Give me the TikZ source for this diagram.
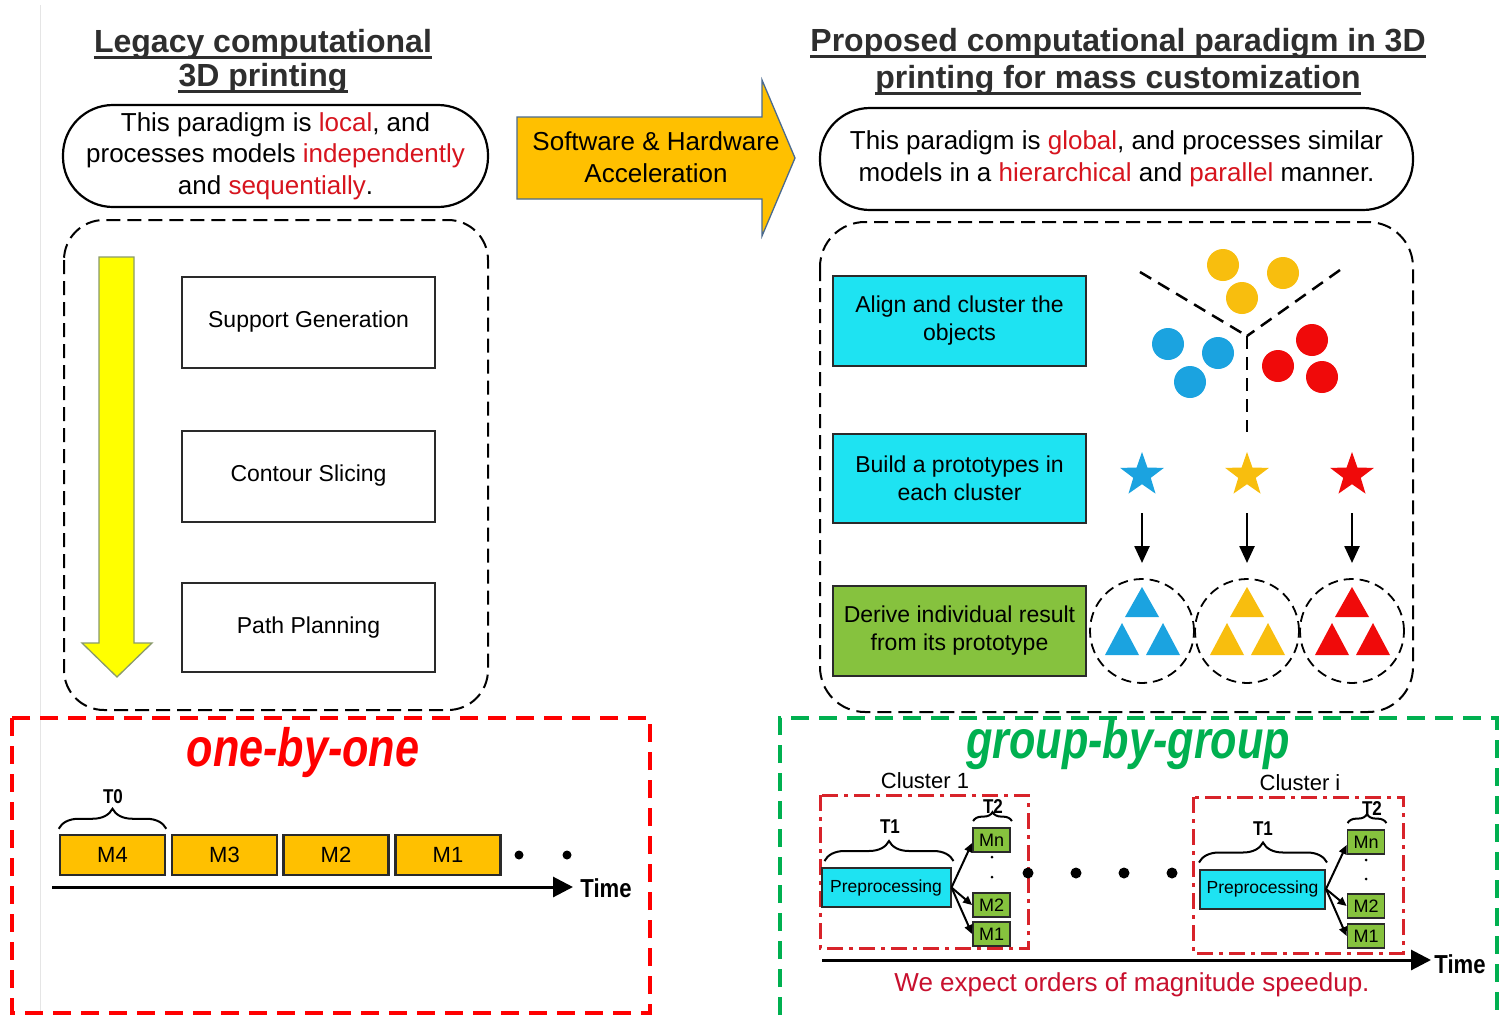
\documentclass[tikz,border=0pt]{standalone}
\usepackage{fontspec}
\setmainfont{Liberation Sans}
\usetikzlibrary{arrows.meta,shapes.geometric,decorations.pathreplacing,calc}

\definecolor{titlegray}{HTML}{2E2E2E}
\definecolor{hlred}{HTML}{D7141E}
\definecolor{accorange}{HTML}{FFC000}
\definecolor{procyan}{HTML}{1EE3F2}
\definecolor{derivegreen}{HTML}{86C23E}
\definecolor{dotblue}{HTML}{1BA3E0}
\definecolor{dotyellow}{HTML}{F8BE0E}
\definecolor{dotred}{HTML}{F00A0A}
\definecolor{speedred}{HTML}{C8102E}
\definecolor{groupgreen}{HTML}{00B050}
\definecolor{arrowyellow}{HTML}{FFFF00}
\definecolor{clusterred}{HTML}{D8232A}
\definecolor{boxedge}{HTML}{2A2A2A}
\definecolor{accedge}{HTML}{4A6A8F}
\definecolor{yedge}{HTML}{8A9A6A}

\newcommand{\fsz}[2]{\fontsize{#1}{#2}\selectfont}
\newcommand{\redword}[1]{\textcolor{hlred}{#1}}

\begin{document}
\begin{tikzpicture}[x=1pt,y=-1pt,
  ttl/.style={font=\fsz{32}{38}\bfseries, text=titlegray, inner sep=0pt, anchor=base},
  uline/.style={titlegray, line width=3pt},
  pill/.style={draw=black, line width=2.2pt, rounded corners=50pt, align=center,
    font=\fsz{26}{31.5}, inner sep=0pt},
  stage/.style={draw=boxedge, line width=2pt, minimum width=253pt, minimum height=91pt,
    align=center, font=\fsz{23}{28}, inner sep=0pt},
  cyanbox/.style={stage, fill=procyan},
  greenbox/.style={stage, fill=derivegreen},
  bigdash/.style={draw=black, line width=2pt, dash pattern=on 14pt off 7pt},
  mslot/.style={draw=boxedge, line width=2.5pt, fill=accorange, minimum width=105pt,
    minimum height=40pt, inner sep=0pt, font=\fsz{22}{24}},
  mtiny/.style={draw=boxedge, line width=1.8pt, fill=derivegreen, minimum width=37pt,
    minimum height=24pt, inner sep=0pt, font=\fsz{18}{20}},
  prebox/.style={draw=boxedge, line width=2pt, fill=procyan, minimum width=129pt,
    minimum height=39pt, inner sep=0pt, font=\fsz{17.5}{20}},
  clusterbox/.style={draw=clusterred, line width=3pt,
    dash pattern=on 16pt off 6pt on 4pt off 6pt},
  tbrace/.style={decorate, decoration={brace, amplitude=#1}, line width=2pt},
  tlabel/.style={font=\fsz{20}{22}\bfseries, inner sep=0pt},
  timelbl/.style={font=\fsz{26}{30}\bfseries, inner sep=0pt},
  axis/.style={line width=3pt, -{Triangle[length=20pt,width=20pt]}},
  blkarrow/.style={line width=2.5pt, -{Triangle[length=17pt,width=15pt]}},
  smallarr/.style={line width=2pt, -{Triangle[length=9pt,width=8pt]}},
  ring/.style={circle, draw=black, line width=1.8pt, dash pattern=on 10pt off 6pt,
    minimum size=104pt, inner sep=0pt},
  proto/.style={star, star points=5, star point ratio=2.5, minimum size=46pt,
    inner sep=0pt, fill=#1},
  bigdot/.style={circle, fill=black, minimum size=10pt, inner sep=0pt},
]
\useasboundingbox (0,0) rectangle (1499,1015);
\fill[white] (0,0) rectangle (1499,1015);
\draw[black!10, line width=1pt] (40,5) -- (40,1015);

% ---------- titles ----------
\node[ttl] (lt1) at (263,52) {Legacy computational};
\node[ttl] (lt2) at (263,86) {3D printing};
\node[ttl] (rt1) at (1118,51) {Proposed computational paradigm in 3D};
\node[ttl] (rt2) at (1118,88) {printing for mass customization};
\foreach \t in {lt1,lt2,rt1,rt2}
  \draw[uline] ($(\t.base west)+(0,5)$) -- ($(\t.base east)+(0,5)$);

% ---------- summary pills ----------
\node[pill, minimum width=425pt, minimum height=102pt] (lpill) at (275.5,156)
  {This paradigm is \redword{local}, and\\processes models \redword{independently}\\and \redword{sequentially}.};
\node[pill, minimum width=593pt, minimum height=102pt] (rpill) at (1116.5,159)
  {This paradigm is \redword{global}, and processes similar\\models in a \redword{hierarchical} and \redword{parallel} manner.};

% ---------- acceleration arrow ----------
\filldraw[fill=accorange, draw=accedge, line width=1.3pt]
  (517,117) -- (762,117) -- (762,80) -- (795,158) -- (762,236) -- (762,199) -- (517,199) -- cycle;
\node[font=\fsz{26}{32}, align=center, inner sep=0pt] (accel) at (656,157)
  {Software \& Hardware\\Acceleration};

% ---------- legacy pipeline ----------
\draw[bigdash, rounded corners=40pt] (64,220) rectangle (488,710);
\filldraw[fill=arrowyellow, draw=yedge, line width=1.3pt]
  (99,257) -- (134,257) -- (134,643) -- (152,643) -- (117,677) -- (82,643) -- (99,643) -- cycle;
\node[stage] (sg) at (308.5,322) {Support Generation};
\node[stage] (cs) at (308.5,476) {Contour Slicing};
\node[stage, minimum height=89pt] (pp) at (308.5,627.5) {Path Planning};

% ---------- proposed pipeline ----------
\draw[bigdash, rounded corners=45pt] (820,222) rectangle (1413,712);
\node[cyanbox, minimum height=90pt] (align) at (959.5,321) {Align and cluster the\\objects};
\node[cyanbox, minimum height=89pt] (build) at (959.5,478.5) {Build a prototypes in\\each cluster};
\node[greenbox, minimum height=90pt] (derive) at (959.5,631) {Derive individual result\\from its prototype};

% clustered objects and separating lines
\draw[line width=2.5pt, dash pattern=on 13pt off 8pt] (1140,272) -- (1247,336);
\draw[line width=2.5pt, dash pattern=on 13pt off 8pt] (1340,270) -- (1247,336);
\draw[line width=2.5pt, dash pattern=on 13pt off 8pt] (1247,336) -- (1247,432);
\foreach \p in {(1223,265),(1283,273),(1242,298)} \fill[dotyellow] \p circle (16);
\foreach \p in {(1168,344),(1218,353),(1190,382)} \fill[dotblue] \p circle (16);
\foreach \p in {(1312,340),(1278,366),(1322,377)} \fill[dotred] \p circle (16);

% prototypes, arrows and derived results
\foreach \i/\cx/\col in {1/1142/dotblue,2/1247/dotyellow,3/1352/dotred} {
  \node[proto=\col] (s\i) at (\cx,475) {};
  \node[ring] (c\i) at (\cx,631) {};
  \draw[blkarrow] ($(s\i.center)+(0,38)$) -- ($(c\i.center)+(0,-68)$);
  \fill[\col] (\cx,587) -- (\cx+17,617) -- (\cx-17,617) -- cycle;
  \fill[\col] (\cx-20,623) -- (\cx-3,655) -- (\cx-37,655) -- cycle;
  \fill[\col] (\cx+21,623) -- (\cx+38,655) -- (\cx+4,655) -- cycle;
}

% ---------- one-by-one timeline ----------
\draw[red, line width=4pt, dash pattern=on 18pt off 10pt] (12,718) rectangle (650,1013);
\node[font=\fsz{54}{60}\bfseries\itshape, text=red, inner sep=0pt] (obo) at (303,753)
  {\scalebox{0.8}[1]{one-by-one}};
\node[mslot] (m4) at (112.5,855) {M4};
\node[mslot] (m3) at (224.5,855) {M3};
\node[mslot] (m2) at (336,855) {M2};
\node[mslot] (m1) at (448,855) {M1};
\node[bigdot, minimum size=9pt] (d1) at (519,855) {};
\node[bigdot, minimum size=9pt] (d2) at (567,855) {};
\coordinate (ax0) at (52,887);
\coordinate (ax1) at (573,887);
\draw[axis] (ax0) -- (ax1);
\node[timelbl] (time0) at (606,888) {\scalebox{0.85}[1]{Time}};
\draw[tbrace=20pt] ($(m4.north west)+(0,-5)$) -- ($(m4.north east)+(0,-5)$);
\node[tlabel] (t0) at (113,797) {\scalebox{0.85}[1]{T0}};

% ---------- group-by-group timeline ----------
\draw[groupgreen, line width=4pt, dash pattern=on 18pt off 10pt]
  (780,1015) -- (780,718) -- (1497,718) -- (1497,1015);
\node[font=\fsz{54}{60}\bfseries\itshape, text=groupgreen, inner sep=0pt] (gbg) at (1128,745)
  {\scalebox{0.8}[1]{group-by-group}};

% cluster 1
\node[font=\fsz{22}{24}, inner sep=0pt] (cl1) at (925,781) {Cluster 1};
\draw[clusterbox] (820,795) rectangle (1028,948);
\node[prebox] (pre1) at (886,887.5) {Preprocessing};
\node[mtiny] (mn1) at (991.5,840) {Mn};
\node[mtiny] (mb1) at (991.5,905) {M2};
\node[mtiny] (ma1) at (991.5,934) {M1};
\fill (992,857) circle (1.5) (992,877) circle (1.5);
\draw[smallarr] (pre1.east) -- ($(mn1.west)+(0,3)$);
\draw[smallarr] (pre1.east) -- (mb1.west);
\draw[smallarr] (pre1.east) -- (ma1.west);
\draw[tbrace=20pt] ($(pre1.north west)+(4,-6)$) -- ($(pre1.north east)+(2,-6)$);
\node[tlabel] (t11) at (890,827) {\scalebox{0.85}[1]{T1}};
\draw[tbrace=9pt] ($(mn1.north west)+(1,-6)$) -- ($(mn1.north east)+(1,-6)$);
\node[tlabel] (t21) at (993,807) {\scalebox{0.85}[1]{T2}};

% dots between clusters
\foreach \k/\x in {1/1028,2/1076,3/1124,4/1172}
  \node[bigdot, minimum size=11pt] (gap\k) at (\x,873) {};

% cluster i
\node[font=\fsz{22}{24}, inner sep=0pt] (cli) at (1300,783) {Cluster i};
\draw[clusterbox] (1193,797) rectangle (1403,953);
\node[prebox, minimum width=125pt] (prei) at (1262.5,889) {Preprocessing};
\node[mtiny] (mni) at (1366,842) {Mn};
\node[mtiny] (mbi) at (1366,906) {M2};
\node[mtiny] (mai) at (1366,936) {M1};
\fill (1366,860) circle (1.5) (1366,879) circle (1.5);
\draw[smallarr] (prei.east) -- ($(mni.west)+(0,3)$);
\draw[smallarr] (prei.east) -- (mbi.west);
\draw[smallarr] (prei.east) -- (mai.west);
\draw[tbrace=20pt] ($(prei.north west)+(0,-6)$) -- ($(prei.north east)+(1,-6)$);
\node[tlabel] (t1i) at (1263,829) {\scalebox{0.85}[1]{T1}};
\draw[tbrace=9pt] ($(mni.north west)+(1,-6)$) -- ($(mni.north east)+(1,-6)$);
\node[tlabel] (t2i) at (1372,809) {\scalebox{0.85}[1]{T2}};

\coordinate (bx0) at (822,960);
\coordinate (bx1) at (1431,960);
\draw[axis] (bx0) -- (bx1);
\node[timelbl] (time1) at (1460,964) {\scalebox{0.85}[1]{Time}};
\node[font=\fsz{26}{30}, text=speedred, inner sep=0pt] (speed) at (1132,985)
  {We expect orders of magnitude speedup.};
\end{tikzpicture}
\end{document}
